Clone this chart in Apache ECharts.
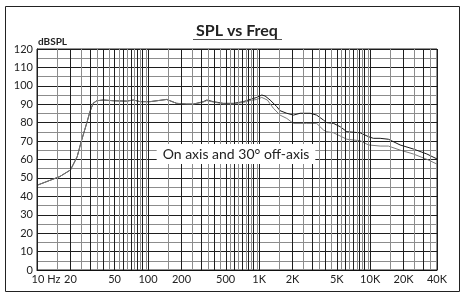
<!DOCTYPE html>
<html>
<head>
<meta charset="utf-8">
<script src="https://cdn.jsdelivr.net/npm/echarts@6/dist/echarts.min.js"></script>
<style>
html, body { margin: 0; padding: 0; background: #fff; }
#chart { width: 465px; height: 298px; }
</style>
</head>
<body>
<div id="chart"></div>
<script>
// on axis response (Hz / dB SPL)
const freqsOn = [10, 16, 20, 23, 25, 28, 30, 32, 34.5, 39.5, 49, 64, 74, 85, 104, 147, 181, 223, 256, 315, 338, 388, 477, 587, 722, 830, 953, 1057, 1132, 1256, 1443, 1545, 1775, 2040, 2340, 2880, 3300, 3800, 4070, 4680, 5370, 6170, 8130, 9660, 10700, 12300, 14600, 18600, 24500, 32400, 40000]
const splOn = [46, 50.7, 54.3, 61.5, 69.7, 79.6, 86, 90.5, 91.9, 92.3, 91.9, 91.7, 92.3, 91.4, 91.4, 92.6, 90.5, 90.1, 90.1, 91.4, 92.3, 91.4, 90.5, 90.5, 91.4, 92.6, 93.7, 95, 94.5, 92.3, 88.7, 86.5, 85.1, 84.1, 85.1, 85.1, 84.1, 81.4, 80, 79.6, 77.8, 75.1, 74.5, 72.4, 71.5, 71.5, 71, 67.9, 65.7, 63, 60.3]

// 30 degree off axis response
const freqsOff = [10, 16, 20, 23, 25, 28, 30, 32, 34.5, 39.5, 49, 64, 74, 85, 104, 147, 181, 223, 256, 315, 338, 388, 477, 587, 722, 830, 953, 1057, 1186, 1346, 1545, 1775, 2040, 2680, 3300, 3800, 4070, 4680, 6170, 8130, 9660, 12300, 14600, 18600, 24500, 32400, 40000]
const splOff = [46, 50.7, 54.3, 61.5, 69.7, 79.6, 86, 90.5, 91.9, 92.3, 91.9, 91.7, 92.3, 91.4, 91.4, 92.6, 90.5, 90.1, 90.1, 91.2, 92, 91.2, 90.2, 90.2, 91, 92, 92.6, 93.7, 92.3, 87.8, 84.1, 82.3, 79.6, 79.6, 79.6, 76, 75.1, 74.5, 71, 70.2, 67.9, 67.3, 67.3, 65.1, 63, 60.1, 57.5]

const tickFreqs = [10, 20, 50, 100, 200, 500, 1000, 2000, 5000, 10000, 20000, 40000]
const tickLabels = ['10 Hz', '20', '50', '100', '200', '500', '1K', '2K', '5K', '10K', '20K', '40K']

const FONT = 'Lato'
const lg = v => Math.log10(v)

// vertical grid: every half step of each decade
let vLines = []
;[10, 100, 1000, 10000].forEach(d => {
  for (let m = 1; m < 10; m += 0.5) {
    let f = d * m
    if (f > 40000) break
    vLines.push({
      xAxis: lg(f),
      lineStyle: { color: Number.isInteger(m) ? '#1e1e1e' : '#8c8c8c', width: 1, type: 'solid' }
    })
  }
})

const chart = echarts.init(document.getElementById('chart'))

let option = {
  animation: false,
  textStyle: { fontFamily: FONT },
  grid: {
    left: 37, right: 28, top: 49, bottom: 28,
    show: true, borderColor: '#222', borderWidth: 1
  },
  xAxis: {
    type: 'value',
    min: 1,
    max: lg(40000),
    axisLine: { show: true, lineStyle: { color: '#111', width: 1 } },
    axisTick: { show: false },
    splitLine: { show: false },
    axisLabel: {
      customValues: tickFreqs.map(lg),
      margin: 4,
      color: '#222',
      fontSize: 11,
      fontFamily: FONT,
      formatter: v => {
        let i = tickFreqs.findIndex(f => Math.abs(lg(f) - v) < 1e-6)
        if (i === 0) return '{first|' + tickLabels[0] + '}'
        return i < 0 ? '' : tickLabels[i]
      },
      rich: {
        first: { fontSize: 11, fontFamily: FONT, color: '#222', padding: [0, 0, 0, 18] }
      }
    }
  },
  yAxis: {
    type: 'value',
    min: 0,
    max: 120,
    interval: 10,
    axisLine: { show: true, lineStyle: { color: '#111', width: 1 } },
    axisTick: { show: false },
    axisLabel: { margin: 4, color: '#222', fontSize: 11, fontFamily: FONT },
    splitLine: { show: true, lineStyle: { color: '#1e1e1e', width: 1 } },
    minorTick: { show: false, splitNumber: 2 },
    minorSplitLine: { show: true, lineStyle: { color: '#8c8c8c', width: 1 } }
  },
  series: [
    {
      type: 'line',
      data: [],
      z: 1,
      silent: true,
      markLine: {
        silent: true,
        symbol: ['none', 'none'],
        label: { show: false },
        animation: false,
        data: vLines
      }
    },
    {
      name: 'On axis',
      type: 'line',
      z: 3,
      showSymbol: false,
      lineStyle: { color: '#1a1a1a', width: 1 },
      data: freqsOn.map((f, i) => [lg(f), splOn[i]])
    },
    {
      name: '30° off-axis',
      type: 'line',
      z: 4,
      showSymbol: false,
      lineStyle: { color: '#7a7a7a', width: 1 },
      data: freqsOff.map((f, i) => [lg(f), splOff[i]])
    }
  ],
  graphic: [
    {
      type: 'rect',
      shape: { x: 5.5, y: 6.5, width: 454, height: 285 },
      style: { fill: 'none', stroke: '#222', lineWidth: 1 },
      silent: true
    },
    {
      type: 'text',
      x: 237, y: 31,
      style: {
        text: 'SPL vs Freq', fontFamily: FONT, fontSize: 16, fontWeight: 'bold',
        fill: '#222', align: 'center', verticalAlign: 'middle'
      }
    },
    {
      type: 'line',
      shape: { x1: 193, y1: 39.5, x2: 282, y2: 39.5 },
      style: { stroke: '#555', lineWidth: 1 }
    },
    {
      type: 'text',
      x: 38, y: 42,
      style: {
        text: 'dBSPL', fontFamily: FONT, fontSize: 10, fontWeight: 'bold',
        fill: '#222', align: 'left', verticalAlign: 'middle'
      }
    },
    {
      type: 'text',
      x: 236, y: 154,
      z: 10,
      style: {
        text: 'On axis and 30° off-axis', fontFamily: FONT, fontSize: 14,
        fill: '#222', align: 'center', verticalAlign: 'middle',
        backgroundColor: '#fff', padding: [3, 6]
      }
    }
  ]
}
chart.setOption(option)
</script>
</body>
</html>
